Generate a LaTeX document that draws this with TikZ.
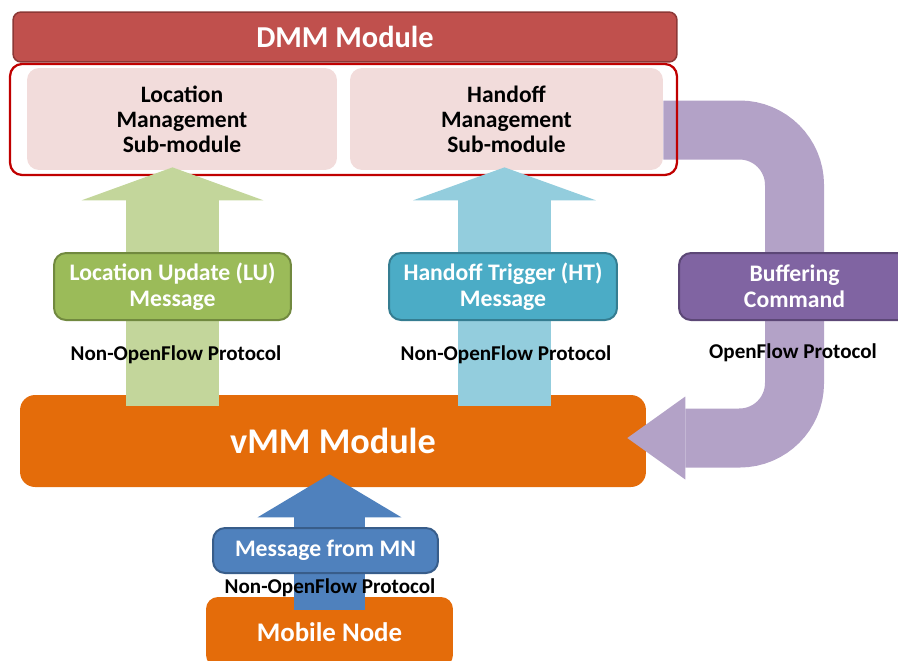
\documentclass[tikz,border=0pt]{standalone}
\usepackage{fontspec}
\setmainfont{Carlito}
\usepackage{tikz}
\usetikzlibrary{arrows.meta}
\usetikzlibrary{calc}
\usetikzlibrary{backgrounds}

\definecolor{dmmred}{HTML}{C0504D}
\definecolor{dmmline}{HTML}{8C3836}
\definecolor{frameRed}{HTML}{C00000}
\definecolor{subpink}{HTML}{F2DCDB}
\definecolor{luarrow}{HTML}{C3D69B}
\definecolor{lugreen}{HTML}{9BBB59}
\definecolor{luline}{HTML}{71893F}
\definecolor{htarrow}{HTML}{93CDDD}
\definecolor{htblue}{HTML}{4BACC6}
\definecolor{htline}{HTML}{357D91}
\definecolor{bufarrow}{HTML}{B3A2C7}
\definecolor{bufpurple}{HTML}{8064A2}
\definecolor{bufline}{HTML}{5C4776}
\definecolor{vmmorange}{HTML}{E46C0A}
\definecolor{mnblue}{HTML}{4F81BD}
\definecolor{mnline}{HTML}{385D8A}

\begin{document}
\begin{tikzpicture}[x=0.02cm, y=-0.02cm,
    box/.style={rounded corners=0.24cm, align=center, inner sep=0pt},
    submodule/.style={box, fill=subpink, minimum width=#1, minimum height=2.04cm,
        font=\fontsize{13.4}{14.2}\selectfont\bfseries},
    message/.style={box, text=white, line width=0.04cm, minimum height=1.34cm,
        font=\fontsize{13.5}{14.7}\selectfont\bfseries},
    protocol/.style={font=\fontsize{12}{14}\selectfont\bfseries},
    fatarrow/.style n args={3}{line width=#1,
        -{Triangle[length=#2, width=#3, line width=0pt]}}]
    \useasboundingbox (0, 0) rectangle (898, 660);

    \node (dmm) [box, rounded corners=0.16cm, fill=dmmred, draw=dmmline, line width=0.03cm,
        minimum width=13.28cm, minimum height=1cm, text=white,
        font=\fontsize{17.3}{20}\selectfont\bfseries] at (345, 37) {DMM Module};

    \node (cont) [box, draw=frameRed, line width=0.045cm, minimum width=13.34cm,
        minimum height=2.22cm] at (343.5, 119.5) {};
    \node (loc) [submodule=6.2cm] at (182, 119) {Location\\Management\\Sub-module};
    \node (hand) [submodule=6.26cm] at (506.5, 119) {Handoff\\Management\\Sub-module};

    \node (buf) [message, fill=bufpurple, draw=bufline, minimum width=4.62cm]
        at (794.5, 286.5) {Buffering\\Command};

    \begin{pgfonlayer}{background}
        \node (vmm) [box, rounded corners=0.3cm, fill=vmmorange, minimum width=12.52cm,
            minimum height=1.84cm, text=white, font=\fontsize{20.6}{24}\selectfont\bfseries]
            at (333, 441) {vMM Module};
        \draw [fatarrow={1.18cm}{1.16cm}{1.66cm}, bufarrow, rounded corners=1.1cm]
            ($(hand.east)+(0, 11)$) -| ($(buf |- vmm.east)+(0, -3)$) -- ($(vmm.east)+(-19, -3)$);
    \end{pgfonlayer}

    \node (mn) [box, rounded corners=0.24cm, fill=vmmorange, minimum width=4.94cm,
        minimum height=1.4cm, text=white, font=\fontsize{15.3}{18}\selectfont\bfseries]
        at (329.5, 632) {Mobile Node};

    \draw [fatarrow={1.86cm}{0.66cm}{3.64cm}, luarrow]
        ($(172.5, 0 |- vmm.north)+(0, 11)$) -- ($(172.5, 0 |- loc.south)+(0, -3)$);
    \draw [fatarrow={1.86cm}{0.66cm}{3.66cm}, htarrow]
        ($(504.5, 0 |- vmm.north)+(0, 11)$) -- ($(504.5, 0 |- hand.south)+(0, -3)$);
    \draw [fatarrow={1.42cm}{0.86cm}{2.88cm}, mnblue]
        ($(mn.north)+(0, 13)$) -- ($(vmm.south -| mn)+(0, -13)$);

    \node (lu) [message, fill=lugreen, draw=luline, minimum width=4.74cm]
        at (172.5, 286.5) {Location Update (LU)\\Message};
    \node (ht) [message, fill=htblue, draw=htline, minimum width=4.56cm]
        at (503, 286.5) {Handoff Trigger (HT)\\Message};
    \node (msg) [message, fill=mnblue, draw=mnline, minimum width=4.5cm, minimum height=0.9cm]
        at (325.5, 550.5) {Message from MN};

    \node (luproto) [protocol] at (176, 355) {Non-OpenFlow Protocol};
    \node (htproto) [protocol] at (506, 355) {Non-OpenFlow Protocol};
    \node (bufproto) [protocol] at (793, 353) {OpenFlow Protocol};
    \node (mnproto) [protocol] at (330, 588) {Non-OpenFlow Protocol};
\end{tikzpicture}
\end{document}
